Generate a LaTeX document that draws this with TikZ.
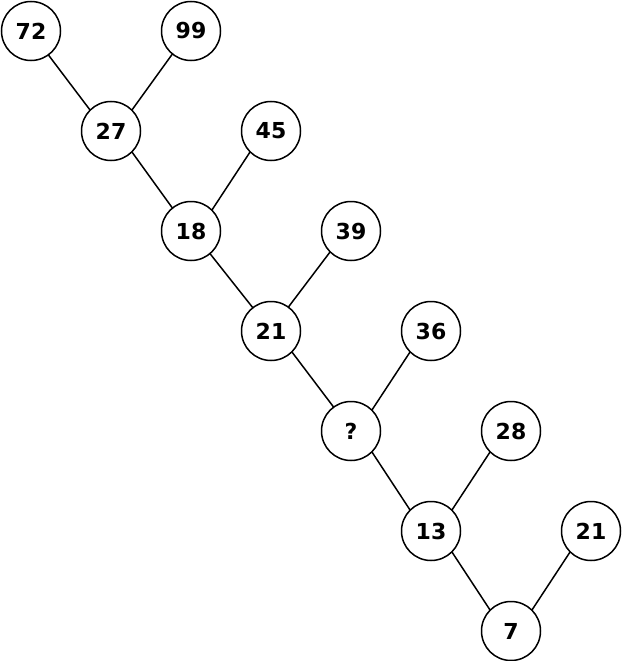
\documentclass[tikz,border=0pt]{standalone}
\usepackage{fontspec}
\setmainfont{DejaVu Sans}
\begin{document}
\begin{tikzpicture}[x=1pt,y=-1pt,
  num/.style={circle,draw,line width=1.5pt,minimum size=59pt,inner sep=0pt,outer sep=0pt,font=\fontsize{22}{26}\selectfont\bfseries},
  link/.style={line width=1.5pt}]
\useasboundingbox (0,0) rectangle (622,661);
\node[num] (n72) at (31,31) {72};
\node[num] (n99) at (191,31) {99};
\node[num] (n27) at (111,131) {27};
\node[num] (n45) at (271,131) {45};
\node[num] (n18) at (191,231) {18};
\node[num] (n39) at (351,231) {39};
\node[num] (n21) at (271,331) {21};
\node[num] (n36) at (431,331) {36};
\node[num] (nq) at (351,431) {?};
\node[num] (n28) at (511,431) {28};
\node[num] (n13) at (431,531) {13};
\node[num] (n21b) at (591,531) {21};
\node[num] (n7) at (511,631) {7};
\draw[link] (n72.-54) -- (n27.135);
\draw[link] (n99.231) -- (n27.45);
\draw[link] (n27.-45) -- (n18.129);
\draw[link] (n45.225) -- (n18.45);
\draw[link] (n18.-50) -- (n21.128);
\draw[link] (n39.225) -- (n21.54);
\draw[link] (n21.-45) -- (nq.126);
\draw[link] (n36.225) -- (nq.45);
\draw[link] (nq.-45) -- (n13.135);
\draw[link] (n28.225) -- (n13.45);
\draw[link] (n13.-45) -- (n7.135);
\draw[link] (n21b.225) -- (n7.45);
\end{tikzpicture}
\end{document}
